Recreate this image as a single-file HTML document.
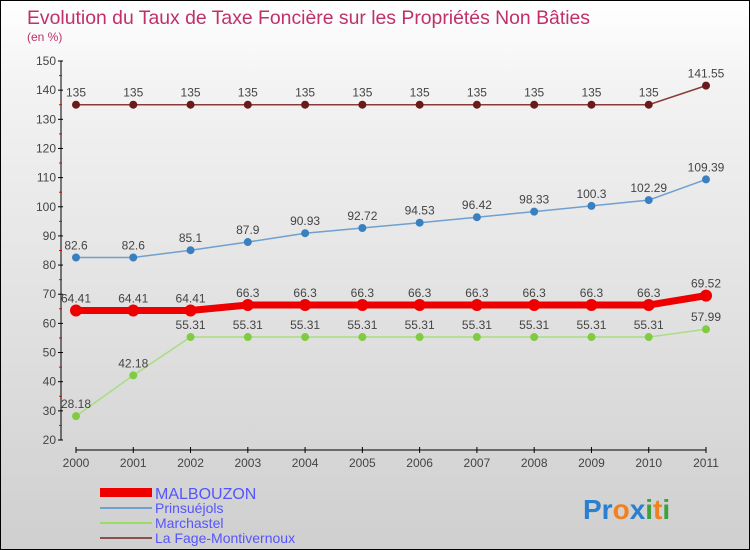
<!DOCTYPE html>
<html><head><meta charset="utf-8"><style>
body{margin:0;width:750px;height:550px;overflow:hidden;font-family:"Liberation Sans",sans-serif}
#wrap{position:relative;width:748px;height:548px;border:1px solid #000;background:linear-gradient(#fff,#f3f3f3 15%,#cfcfcf)}
</style></head><body>
<div id="wrap">
<svg id="svg" width="748" height="548" style="position:absolute;left:0;top:0">
<text x="26" y="23" font-size="19.4" fill="#c0306a">Evolution du Taux de Taxe Foncière sur les Propriétés Non Bâties</text>
<text x="26" y="40" font-size="12" fill="#c0306a">(en %)</text>
<g id="axes"></g><g id="series"></g>
<g>
<rect x="99" y="487" width="52" height="9" fill="#e00"/>
<text x="154" y="498" font-size="16" fill="#5555ff">MALBOUZON</text>
<line x1="99" y1="507" x2="151" y2="507" stroke="#6fa0d0" stroke-width="2"/>
<text x="154" y="512" font-size="14" fill="#5555ff">Prinsuéjols</text>
<line x1="99" y1="522" x2="151" y2="522" stroke="#99dd66" stroke-width="2"/>
<text x="154" y="527" font-size="14" fill="#5555ff">Marchastel</text>
<line x1="99" y1="537" x2="151" y2="537" stroke="#8a5050" stroke-width="2"/>
<text x="154" y="542" font-size="14" fill="#5555ff">La Fage-Montivernoux</text>
</g>
<text x="582" y="518" font-size="28" font-weight="bold"><tspan fill="#2a7fd0">Pr</tspan><tspan fill="#f08020">o</tspan><tspan fill="#2a7fd0">x</tspan><tspan fill="#40a040">i</tspan><tspan fill="#f08020">t</tspan><tspan fill="#40a040">i</tspan></text>
</svg></div>
<script>
const years=[2000,2001,2002,2003,2004,2005,2006,2007,2008,2009,2010,2011];
const yTicks=[20,30,40,50,60,70,80,90,100,110,120,130,140,150];
const malbouzon=[64.41,64.41,64.41,66.3,66.3,66.3,66.3,66.3,66.3,66.3,66.3,69.52];
const prinsuejols=[82.6,82.6,85.1,87.9,90.93,92.72,94.53,96.42,98.33,100.3,102.29,109.39];
const marchastel=[28.18,42.18,55.31,55.31,55.31,55.31,55.31,55.31,55.31,55.31,55.31,57.99];
const lafage=[135,135,135,135,135,135,135,135,135,135,135,141.55];
const NS="http://www.w3.org/2000/svg";
const X=i=>75+i*(705-75)/(years.length-1);
const Y=v=>439-(v-20)*(379/130);
function mk(t,a,p){const e=document.createElementNS(NS,t);for(const k in a)e.setAttribute(k,a[k]);p.appendChild(e);return e;}
const ax=document.getElementById('axes'),se=document.getElementById('series');
mk('line',{x1:60,y1:Y(150),x2:60,y2:Y(20),stroke:'#000'},ax);
yTicks.forEach(v=>{mk('line',{x1:57,y1:Y(v),x2:62,y2:Y(v),stroke:'#000'},ax);
 if(v<150)mk('line',{x1:58,y1:Y(v+5),x2:61,y2:Y(v+5),stroke:'#e00'},ax);
 const t=mk('text',{x:55,y:Y(v)+4,'font-size':12,fill:'#444','text-anchor':'end'},ax);
 
 
 t.textContent=v;});
mk('line',{x1:X(0),y1:449,x2:X(11),y2:449,stroke:'#000'},ax);
years.forEach((y,i)=>{mk('line',{x1:X(i),y1:446,x2:X(i),y2:452,stroke:'#000'},ax);
 const t=mk('text',{x:X(i),y:466,'font-size':12,fill:'#444','text-anchor':'middle'},ax);
 
 
 t.textContent=y;});
function draw(data,name,color,dot,w,r){
 const g=mk('g',{},se);
 
 
 mk('polyline',{points:data.map((v,i)=>X(i)+','+Y(v)).join(' '),fill:'none',stroke:color,'stroke-width':w},g);
 data.forEach((v,i)=>{const c=mk('circle',{cx:X(i),cy:Y(v),r:r,fill:dot},g);
  
  
  const t=mk('text',{x:X(i),y:Y(v)-8,'font-size':12,fill:'#444','text-anchor':'middle'},g);
  
  
  t.textContent=v;});
}
draw(lafage,'la-fage','#8a3a3a','#6a1a1a',1.5,4);
draw(prinsuejols,'prinsuejols','#6fa0d0','#3a80c0',1.5,4);
draw(marchastel,'marchastel','#a8dd80','#80cc40',1.5,4);
draw(malbouzon,'malbouzon','#ee0000','#ee0000',7,6);
</script></body></html>
